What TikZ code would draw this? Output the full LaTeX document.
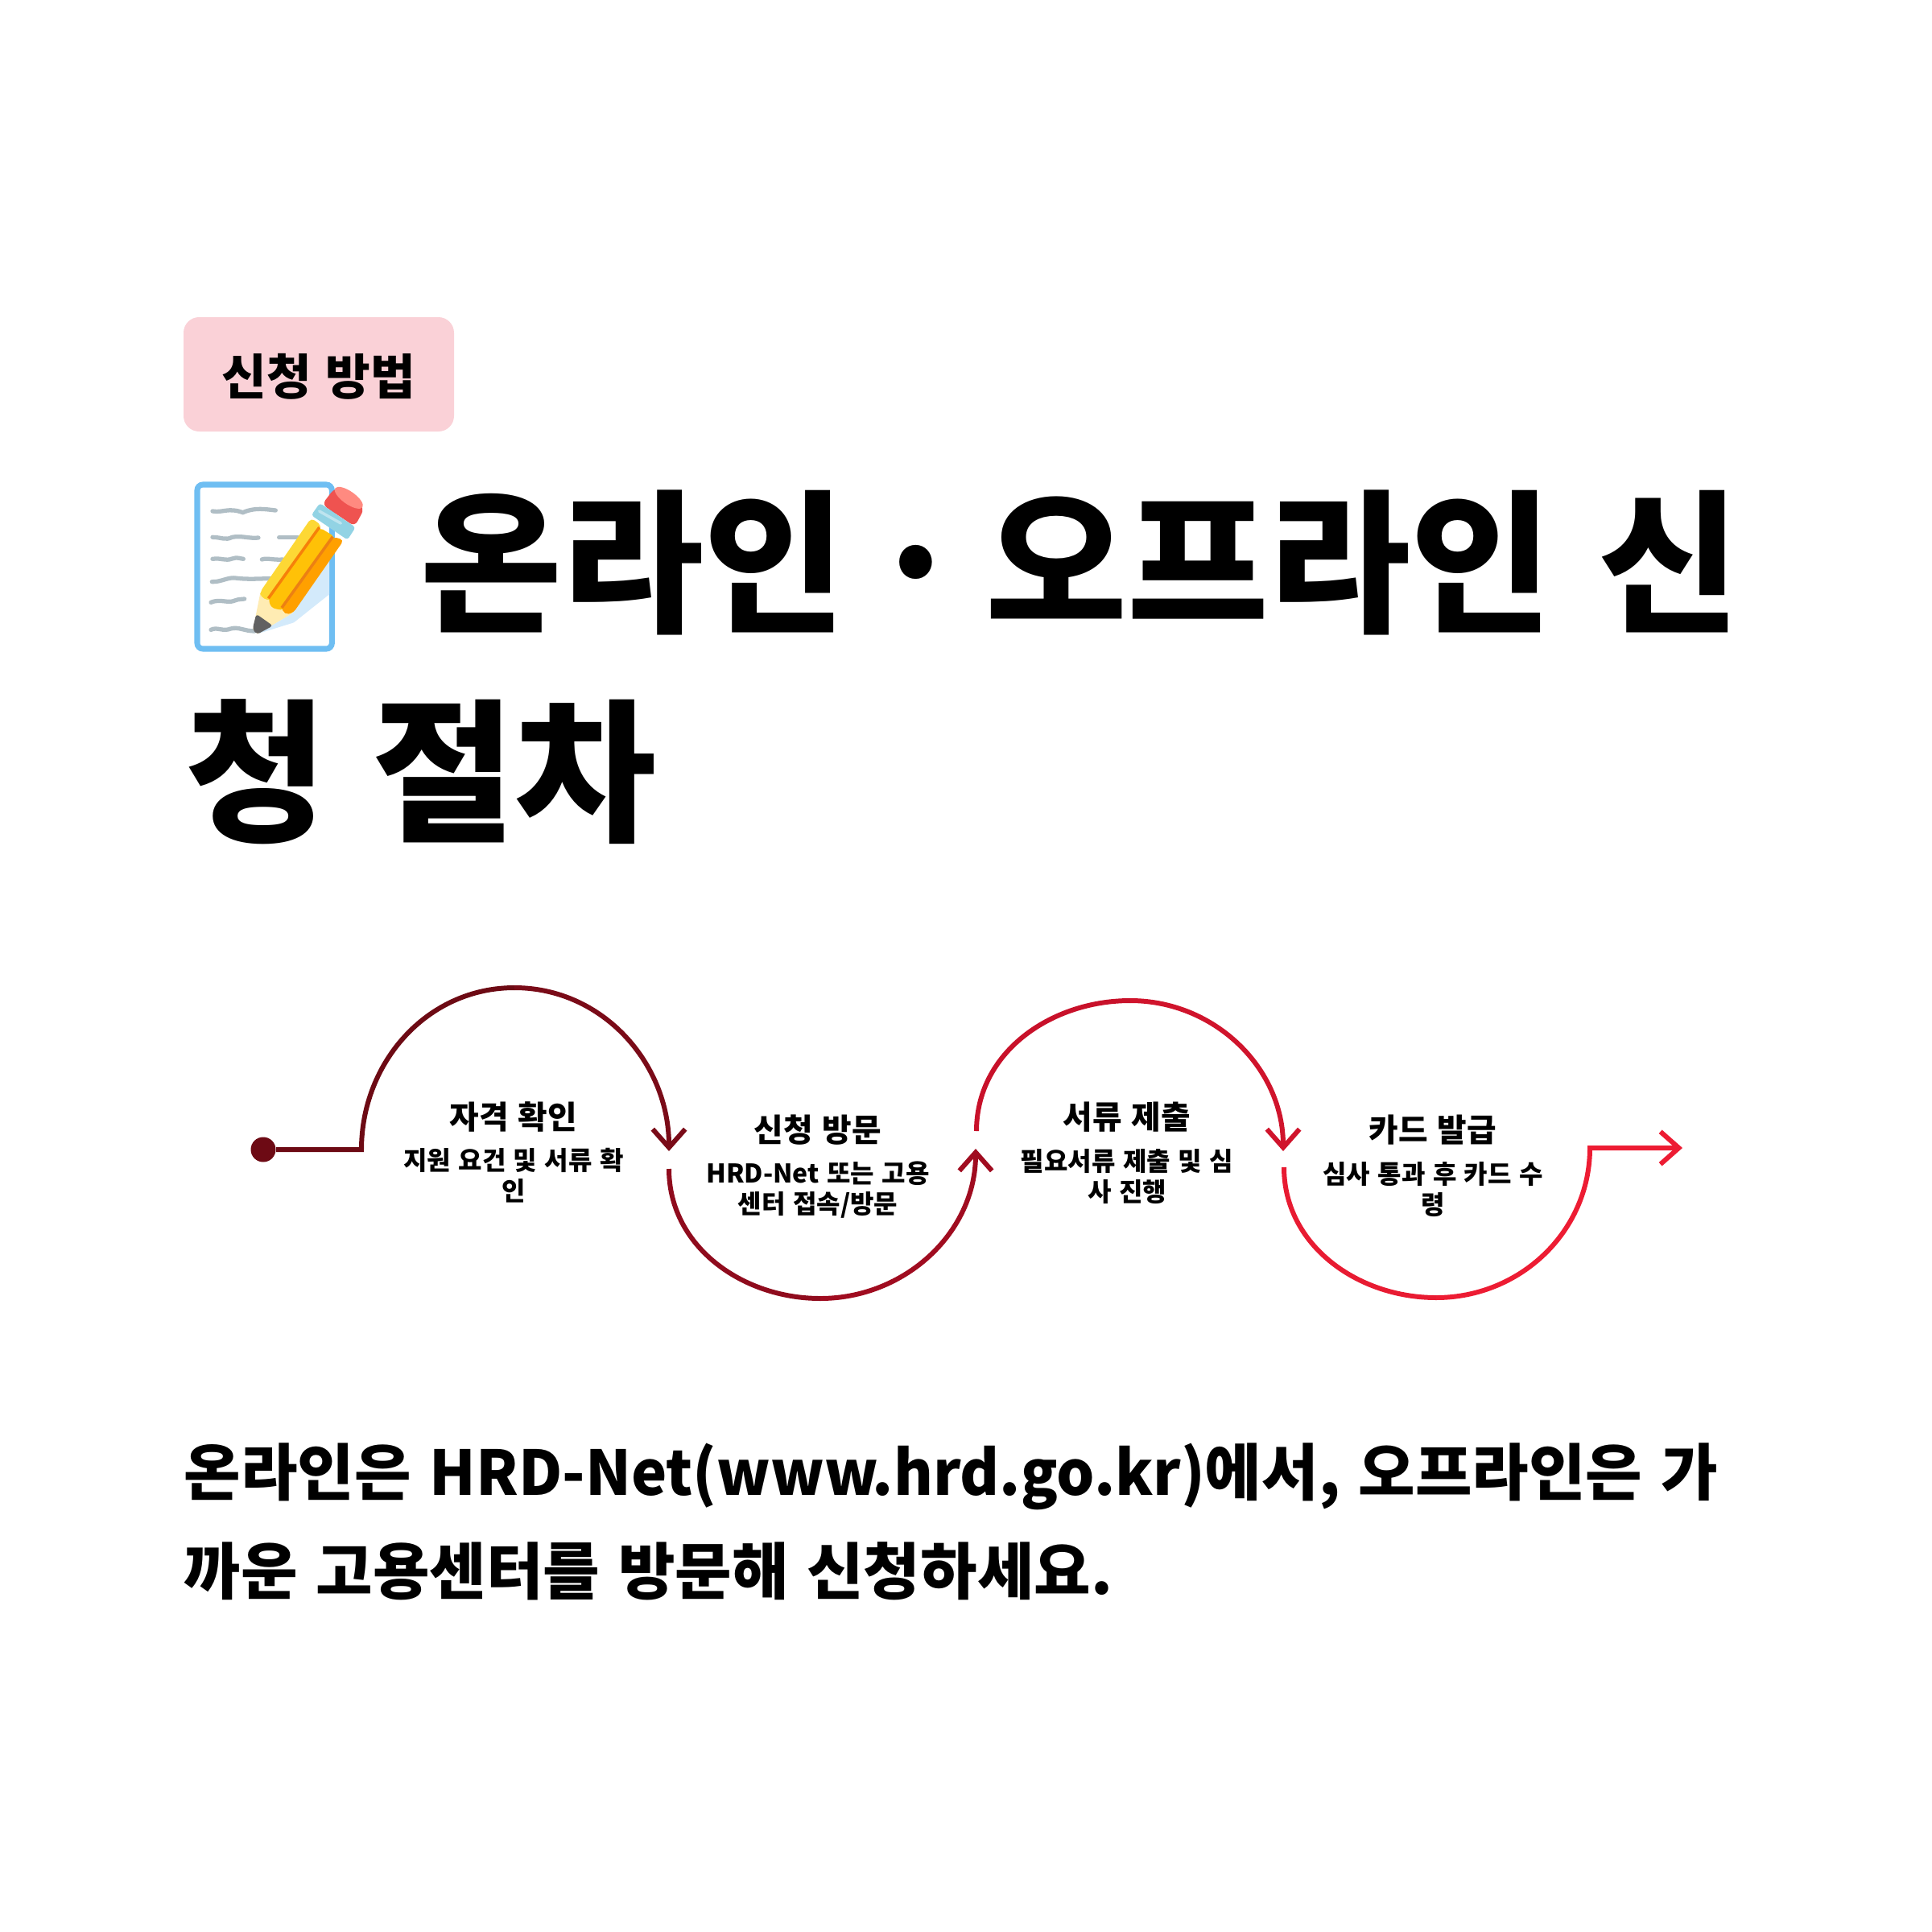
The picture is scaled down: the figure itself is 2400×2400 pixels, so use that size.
\documentclass[tikz,border=0pt]{standalone}
\usepackage{fontspec}
\setmainfont{Noto Sans CJK KR}[WordSpace=1.3]
\newfontfamily\latinfont{Noto Sans CJK KR}[FakeStretch=0.973, WordSpace=1.3]
\usetikzlibrary{positioning, arrows.meta}
\definecolor{badgecolor}{HTML}{FAD1D7}
\definecolor{waveA}{HTML}{6D0A14}
\definecolor{waveB}{HTML}{7A0B18}
\definecolor{waveC}{HTML}{8F0B1D}
\definecolor{waveD}{HTML}{A00C20}
\definecolor{waveE}{HTML}{C8112A}
\definecolor{waveF}{HTML}{D0142C}
\definecolor{waveG}{HTML}{E81B32}
\definecolor{waveH}{HTML}{ED1C33}
\definecolor{memoblue}{HTML}{6FBEF2}
\definecolor{memoline}{HTML}{B0BEC5}
\definecolor{memoshade}{HTML}{D3EAFB}
\definecolor{woodcolor}{HTML}{FFECB3}
\definecolor{leadcolor}{HTML}{616161}
\definecolor{bandA}{HTML}{FDD835}
\definecolor{bandB}{HTML}{FFC107}
\definecolor{bandC}{HTML}{FFA000}
\definecolor{rubber}{HTML}{EF5350}
\definecolor{rubbertop}{HTML}{FF8A80}
\definecolor{ferrule}{HTML}{92D3E4}

\begin{document}
\begin{tikzpicture}[
    x=0.01cm, y=-0.01cm,
    badge/.style={rectangle, fill=badgecolor, rounded corners=5.5pt, minimum width=336*0.01cm, minimum height=142*0.01cm},
    badgetext/.style={inner sep=0pt, font=\fontsize{17.2}{22}\selectfont\bfseries},
    titletext/.style={anchor=west, inner sep=0pt, font=\fontsize{54.4}{60}\selectfont\bfseries},
    bodytext/.style={anchor=west, inner sep=0pt, font=\fontsize{21.8}{26}\selectfont\bfseries},
    head/.style={inner sep=0pt, font=\fontsize{11.3}{14}\selectfont\bfseries},
    desc/.style={inner sep=0pt, align=center, font=\fontsize{9.1}{10.8}\selectfont\bfseries},
    arr/.style={-{Straight Barb[length=6.5pt, width=11.5pt]}, line width=1.7pt},
    seg/.style={line width=1.7pt},
    scribble/.style={draw=memoline, line width=1.5pt, line cap=round},
  ]
    \useasboundingbox (0,0) rectangle (2400,2400);

    \node[badge] (tag) at (396,465) {};
    \node[badgetext] (tagtext) at (396,468) {신청 방법};
    \node[titletext] (title1) at (522,699) {온라인\hspace{-8pt} · \hspace{-8pt}오프라인 신};
    \node[titletext] (title2) at (230,959) {청 절차};
    \node[bodytext] (body1) at (228,1834) {온라인은 {\latinfont\bfseries HRD-Net(www.hrd.go.kr)}에서, 오프라인은 가};
    \node[bodytext] (body2) at (228,1952) {까운 고용센터를 방문해 신청하세요.};

    % memo icon
    \begin{scope}[shift={(220,580)}, x=0.01cm/3, y=-0.01cm/3]
      \draw[memoblue, line width=2pt, rounded corners=2pt, fill=white] (75,66) rectangle (577,678);
      \draw[scribble] (132,165) .. controls (170,172) and (190,150) .. (245,170) .. controls (290,150) and (330,158) .. (367,162);
      \draw[scribble] (132,262) .. controls (165,262) and (180,275) .. (205,262) .. controls (240,255) and (270,268) .. (303,264);
      \draw[scribble] (380,263) -- (450,263);
      \draw[scribble] (132,343) .. controls (165,338) and (180,352) .. (205,342) .. controls (225,335) and (235,342) .. (247,343);
      \draw[scribble] (316,345) .. controls (335,338) and (360,348) .. (395,345);
      \draw[scribble] (130,428) .. controls (165,430) and (190,408) .. (225,415) .. controls (270,420) and (310,416) .. (350,416);
      \draw[scribble] (126,505) .. controls (160,490) and (190,510) .. (215,498) .. controls (230,492) and (240,494) .. (251,492);
      \draw[scribble] (470,497) -- (513,496);
      \draw[scribble] (126,607) .. controls (150,595) and (170,615) .. (200,603) .. controls (230,595) and (250,612) .. (290,612);
      % shadow
      \fill[memoshade] (300,622) -- (435,580) -- (567,475) -- (567,330) -- (430,545) -- cycle;
      % pencil
      \fill[woodcolor] (283,605) -- (310,470) -- (430,545) -- (300,622) -- cycle;
      \fill[leadcolor, rounded corners=1pt] (295,548) -- (357,592) -- (298,624) -- (281,605) -- cycle;
      \fill[bandA, rounded corners=1.5pt] (310,465) -- (500,190) -- (540,220) -- (350,500) -- (310,485) -- cycle;
      \fill[bandB, rounded corners=1.5pt] (340,490) -- (530,225) -- (590,262) -- (395,535) -- (350,525) -- cycle;
      \fill[bandC, rounded corners=1.5pt] (388,520) -- (580,260) -- (622,272) -- (432,545) -- (400,550) -- cycle;
      \draw[orange!85!brown, line width=1pt] (340,490) -- (530,225);
      \draw[orange!70!brown, line width=1pt] (390,525) -- (580,260);
      \fill[rubber, rounded corners=2pt] (540,140) -- (588,78) -- (625,85) -- (698,155) -- (662,222) -- cycle;
      \fill[rubbertop, rotate around={-35:(640,115)}] (640,115) ellipse (62 and 24);
      \fill[ferrule, rounded corners=1pt] (500,180) -- (532,135) -- (665,225) -- (635,272) -- cycle;
      \draw[white!40!ferrule, line width=1pt, line cap=round] (530,165) -- (610,210);
    \end{scope}

    % wave
    \coordinate (start) at (449,1428);
    \coordinate (top1) at (639,1227);
    \coordinate (mid1) at (831,1430);
    \coordinate (mid2) at (831,1452);
    \coordinate (low2) at (1019,1613);
    \coordinate (mid3) at (1212,1427);
    \coordinate (mid4) at (1213,1405);
    \coordinate (top3) at (1404,1243);
    \coordinate (mid5) at (1594,1430);
    \coordinate (mid6) at (1595,1450);
    \coordinate (low4) at (1784,1612);
    \coordinate (mid7) at (1975,1426);
    \coordinate (end) at (2090,1426);

    \node[circle, fill=waveA, inner sep=0pt, minimum size=31*0.01cm] (dot) at (327,1428) {};
    \draw[seg, waveA] (dot) -- (start) to[out=90, in=180] (top1);
    \draw[arr, waveB] (top1) to[out=0, in=90] (mid1);
    \draw[seg, waveC] (mid2) to[out=-90, in=180] (low2);
    \draw[arr, waveD] (low2) to[out=0, in=-90] (mid3);
    \draw[seg, waveE] (mid4) to[out=90, in=180] (top3);
    \draw[arr, waveF] (top3) to[out=0, in=90] (mid5);
    \draw[seg, waveG] (mid6) to[out=-90, in=180] (low4);
    \draw[arr, waveH] (low4) to[out=0, in=-90] (mid7) -- (end);

    \node[head] (h1) at (638,1387) {자격 확인};
    \node[desc, below=0.19cm of h1] (d1) {지원 요건 및 서류 확\\인};
    \node[head] (h2) at (1016,1404) {신청 방문};
    \node[desc, below=0.19cm of h2] (d2) {HRD-Net 또는 고용\\센터 접속/방문};
    \node[head] (h3) at (1400,1388) {서류 제출};
    \node[desc, below=0.19cm of h3] (d3) {필요서류 제출 및 심\\사 진행};
    \node[head] (h4) at (1780,1404) {카드 발급};
    \node[desc, below=0.19cm of h4] (d4) {심사 통과 후 카드 수\\령};
  \end{tikzpicture}
\end{document}
